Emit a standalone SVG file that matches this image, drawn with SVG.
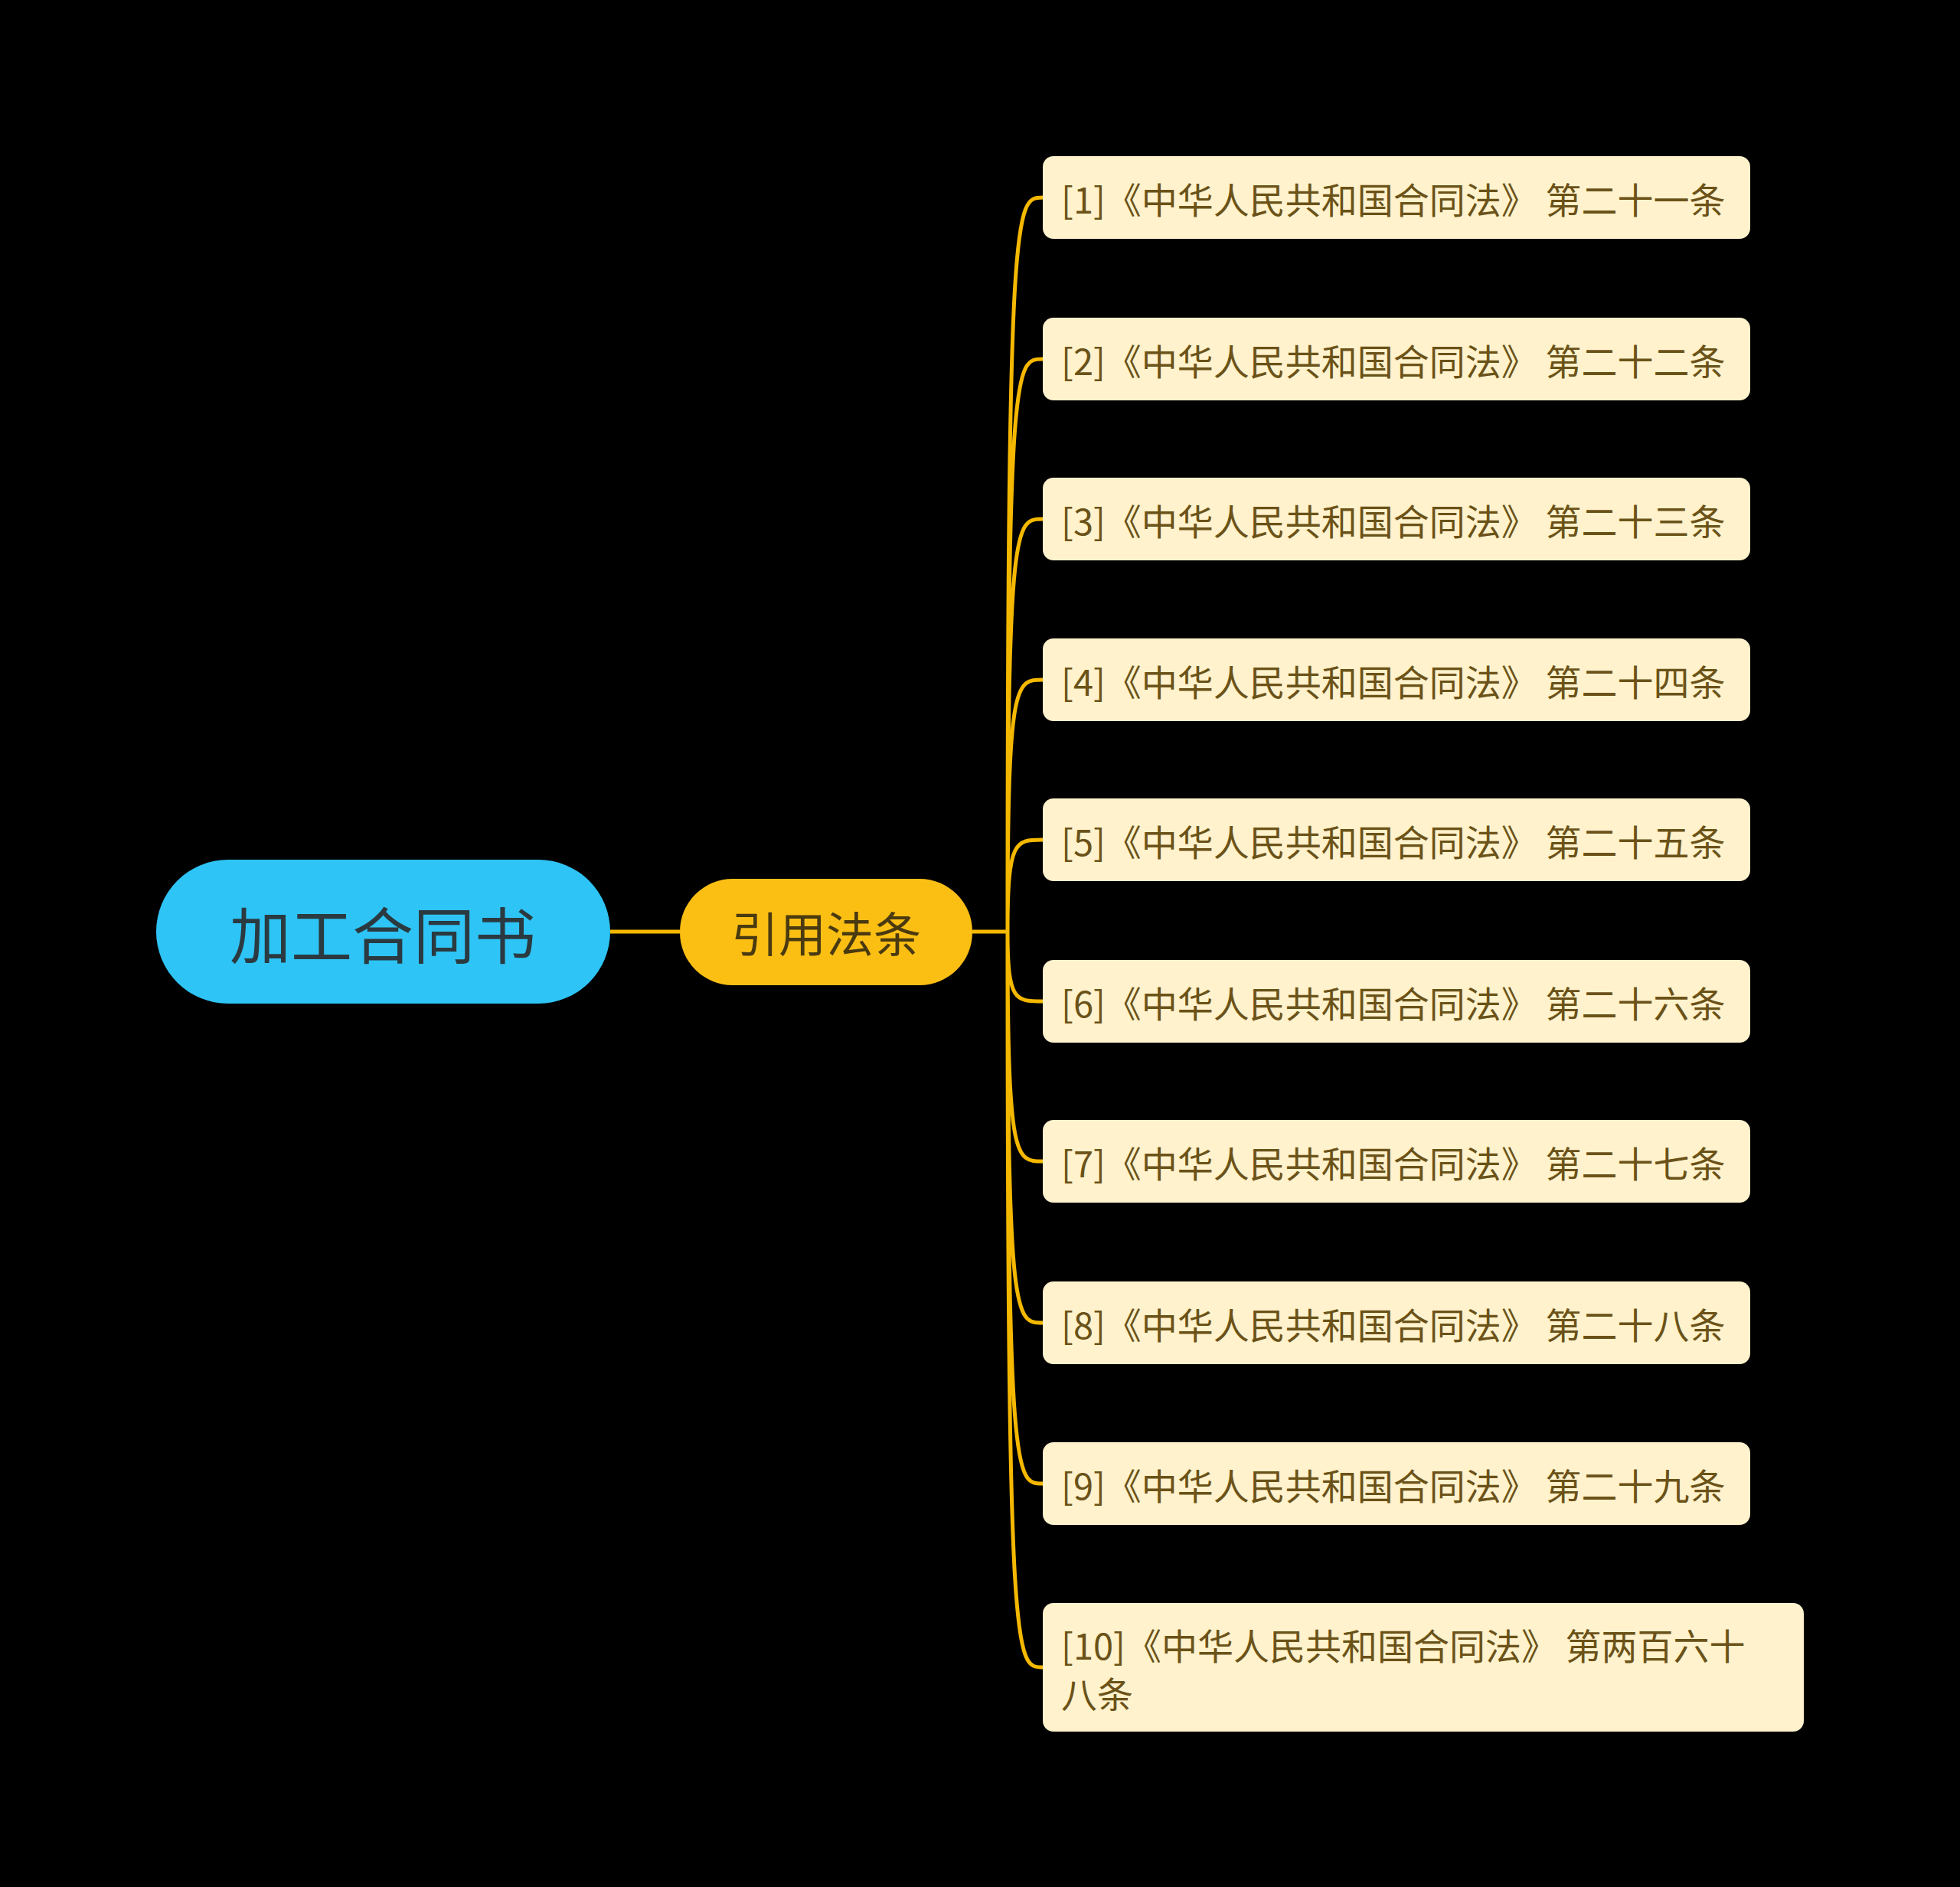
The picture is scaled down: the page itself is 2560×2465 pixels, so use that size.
<svg xmlns="http://www.w3.org/2000/svg" width="2560" height="2465" viewBox="0 0 2560 2465">
<style>
.t{font-family:"Microsoft YaHei","Noto Sans CJK SC",sans-serif;dominant-baseline:central}
.leaf rect{fill:#FFF2CC}
.leaf text{fill:#6B5218;font-size:47px}
.c{fill:none;stroke:#F5B800;stroke-width:5}
</style>
<rect width="2560" height="2465" fill="#000"/>
<g id="connectors">
<path class="c" d="M797 1217H888M1270 1217H1316"/>
<path class="c" d="M1316 1217C1316 258 1326 258 1362 258M1316 1217C1316 469 1326 469 1362 469M1316 1217C1316 678 1326 678 1362 678M1316 1217C1316 888 1326 888 1362 888M1316 1217C1316 1097 1326 1097 1362 1097M1316 1217C1316 1308 1326 1308 1362 1308M1316 1217C1316 1517 1326 1517 1362 1517M1316 1217C1316 1728 1326 1728 1362 1728M1316 1217C1316 1938 1326 1938 1362 1938M1316 1217C1316 2178 1326 2178 1362 2178"/>
</g>
<g id="root"><rect x="204" y="1123" width="593" height="188" rx="94" fill="#2EC4F5"/><text class="t" x="500" y="1217" text-anchor="middle" font-size="80" fill="#2b3a40">加工合同书</text></g>
<g id="sub"><rect x="888" y="1148" width="382" height="139" rx="69" fill="#FBBF14"/><text class="t" x="1079" y="1217" text-anchor="middle" font-size="62" fill="#4a3a10">引用法条</text></g>
<g id="n1" class="leaf"><rect x="1362" y="204" width="924" height="108" rx="14"/><text class="t" x="1386" y="258">[1]《中华人民共和国合同法》 第二十一条</text></g>
<g id="n2" class="leaf"><rect x="1362" y="415" width="924" height="108" rx="14"/><text class="t" x="1386" y="469">[2]《中华人民共和国合同法》 第二十二条</text></g>
<g id="n3" class="leaf"><rect x="1362" y="624" width="924" height="108" rx="14"/><text class="t" x="1386" y="678">[3]《中华人民共和国合同法》 第二十三条</text></g>
<g id="n4" class="leaf"><rect x="1362" y="834" width="924" height="108" rx="14"/><text class="t" x="1386" y="888">[4]《中华人民共和国合同法》 第二十四条</text></g>
<g id="n5" class="leaf"><rect x="1362" y="1043" width="924" height="108" rx="14"/><text class="t" x="1386" y="1097">[5]《中华人民共和国合同法》 第二十五条</text></g>
<g id="n6" class="leaf"><rect x="1362" y="1254" width="924" height="108" rx="14"/><text class="t" x="1386" y="1308">[6]《中华人民共和国合同法》 第二十六条</text></g>
<g id="n7" class="leaf"><rect x="1362" y="1463" width="924" height="108" rx="14"/><text class="t" x="1386" y="1517">[7]《中华人民共和国合同法》 第二十七条</text></g>
<g id="n8" class="leaf"><rect x="1362" y="1674" width="924" height="108" rx="14"/><text class="t" x="1386" y="1728">[8]《中华人民共和国合同法》 第二十八条</text></g>
<g id="n9" class="leaf"><rect x="1362" y="1884" width="924" height="108" rx="14"/><text class="t" x="1386" y="1938">[9]《中华人民共和国合同法》 第二十九条</text></g>
<g id="n10" class="leaf"><rect x="1362" y="2094" width="994" height="168" rx="14"/><text class="t" x="1386" y="2147">[10]《中华人民共和国合同法》 第两百六十</text><text class="t" x="1386" y="2210">八条</text></g>
</svg>
